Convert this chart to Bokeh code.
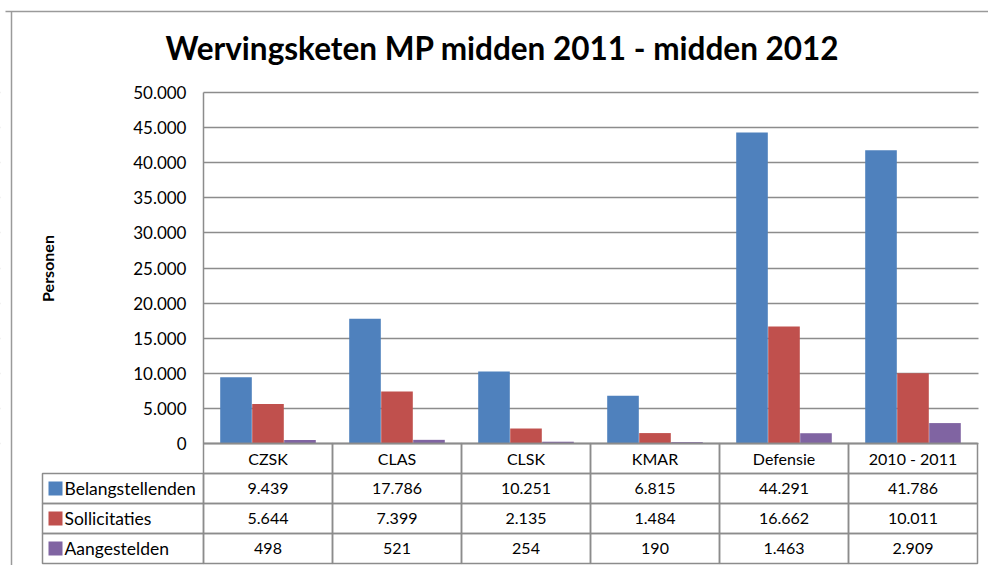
import numpy as np
from bokeh.plotting import figure
from bokeh.models import ColumnDataSource, FixedTicker, LinearAxis, Range1d, Grid
from bokeh.core.properties import value
from bokeh.embed import file_html
from bokeh.resources import INLINE

# ---------------- data ----------------
title_text = "Wervingsketen MP midden 2011 - midden 2012"
y_label = "Personen"
categories = ["CZSK", "CLAS", "CLSK", "KMAR", "Defensie", "2010 - 2011"]
series_names = ["Belangstellenden", "Sollicitaties", "Aangestelden"]
belangstellenden = [9439, 17786, 10251, 6815, 44291, 41786]
sollicitaties = [5644, 7399, 2135, 1484, 16662, 10011]
aangestelden = [498, 521, 254, 190, 1463, 2909]
y_ticks = [0, 5000, 10000, 15000, 20000, 25000, 30000, 35000, 40000, 45000, 50000]
y_tick_labels = ["0", "5.000", "10.000", "15.000", "20.000", "25.000",
                 "30.000", "35.000", "40.000", "45.000", "50.000"]
colors = ["#4F81BD", "#C0504D", "#8064A2"]
series_values = [belangstellenden, sollicitaties, aangestelden]

# ---------------- layout (page pixels) ----------------
W, H = 988, 565
OFF = 0
X_CAT0 = 203.0      # left edge of plot area
CAT_W = 129.0       # width of one category
Y_ZERO = 443.0      # pixel row of value 0
PLOT_H = 351.0      # pixels for full y span
Y_MAX = y_ticks[-1]
RH = 30.0           # table row height
TABLE_LEFT = 42.0
GRAY = "#8c8c8c"
FONT = "Lato"

def dx(px):
    return (px - X_CAT0) / CAT_W

def dy(py):
    return (Y_ZERO - py) * Y_MAX / PLOT_H

p = figure(width=W, height=H,
           x_range=Range1d(dx(OFF), dx(OFF + W)),
           y_range=Range1d(dy(OFF + H), dy(OFF)),
           output_backend="svg", toolbar_location=None,
           x_axis_location=None, y_axis_location=None,
           min_border=0, outline_line_color=None,
           background_fill_color="white", border_fill_color="white")
p.xgrid.visible = False
p.ygrid.visible = False

grid = Grid(dimension=1, ticker=FixedTicker(ticks=y_ticks),
            grid_line_color=GRAY, grid_line_width=1.5)
p.add_layout(grid)

# white covers so gridlines only span the plot area
n = len(categories)
p.quad(left=[dx(-20)], right=[0], bottom=[dy(Y_ZERO + RH)], top=[dy(-20)],
       fill_color="white", line_color=None)
p.quad(left=[n + 1.0 / CAT_W], right=[dx(W + 20)],
       bottom=[dy(Y_ZERO + RH)], top=[dy(-20)],
       fill_color="white", line_color=None)

# y axis (real axis, labels pulled inside the frame)
yaxis = LinearAxis(ticker=FixedTicker(ticks=y_ticks),
                   major_label_overrides={t: l for t, l in zip(y_ticks, y_tick_labels)},
                   axis_line_color=None, major_tick_line_color=None,
                   minor_tick_line_color=None, major_tick_in=0, major_tick_out=0,
                   minor_tick_in=0, minor_tick_out=0,
                   major_label_standoff=-int(186 - OFF),
                   major_label_text_font=FONT,
                   major_label_text_font_size="17px",
                   major_label_text_color="black")
p.add_layout(yaxis, "left")

# vertical axis line
p.segment(x0=[0], y0=[0], x1=[0], y1=[Y_MAX], line_color=GRAY, line_width=1.5)

# bars
xc = np.arange(n) + 0.5
offsets = [-0.248, 0.0, 0.248]
src = ColumnDataSource(dict(xc=xc, b=belangstellenden, s=sollicitaties, a=aangestelden))
for col, off, c in zip(["b", "s", "a"], offsets, colors):
    src.data["x_" + col] = xc + off
    p.vbar(x="x_" + col, top=col, bottom=0, width=0.245, source=src,
           fill_color=c, line_color=None)

# category axis line
p.segment(x0=[0], y0=[0], x1=[n], y1=[0], line_color=GRAY, line_width=1.5)

# table: header row
hdr_bottom = dy(Y_ZERO + RH)
p.quad(left=list(range(n)), right=list(range(1, n + 1)), top=[0] * n, bottom=[hdr_bottom] * n,
       fill_color=None, line_color=GRAY, line_width=1.5)
p.text(x=list(xc), y=[dy(Y_ZERO + RH / 2)] * n, text=categories,
       text_align="center", text_baseline="middle",
       text_font=value(FONT), text_font_size="16px", text_color="black")

def fmt(v):
    return f"{v:,}".replace(",", ".")

for r, (name, vals, c) in enumerate(zip(series_names, series_values, colors)):
    top_px = Y_ZERO + RH * (r + 1)
    bot_px = top_px + RH
    mid_px = top_px + RH / 2
    lefts = [dx(TABLE_LEFT)] + list(range(n))
    rights = [0] + list(range(1, n + 1))
    p.quad(left=lefts, right=rights, top=[dy(top_px)] * (n + 1), bottom=[dy(bot_px)] * (n + 1),
           fill_color=None, line_color=GRAY, line_width=1.5)
    # legend key
    p.quad(left=[dx(48)], right=[dx(62)], top=[dy(mid_px - 7)], bottom=[dy(mid_px + 7)],
           fill_color=c, line_color=None)
    p.text(x=[dx(64)], y=[dy(mid_px)], text=[name], text_align="left",
           text_baseline="middle", text_font=value(FONT), text_font_size="17.5px",
           text_color="black")
    p.text(x=list(xc), y=[dy(mid_px)] * n, text=[fmt(v) for v in vals],
           text_align="center", text_baseline="middle",
           text_font=value(FONT), text_font_size="16px", text_color="black")

# y axis title
p.text(x=[dx(47)], y=[dy(268)], text=[y_label], angle=np.pi / 2,
       text_align="center", text_baseline="middle",
       text_font=value(FONT), text_font_size="16px", text_font_style="bold",
       text_color="black")

# chart title
p.text(x=[dx(502)], y=[dy(47)], text=[title_text], text_align="center",
       text_baseline="alphabetic", text_font=value(FONT), text_font_size="31.5px",
       text_font_style="bold", text_color="black")

# outer chart border (top and left)
p.segment(x0=[dx(5)], y0=[dy(11)], x1=[dx(OFF + W)], y1=[dy(11)],
          line_color="#9a9a9a", line_width=1.5)
p.segment(x0=[dx(11)], y0=[dy(11)], x1=[dx(11)], y1=[dy(OFF + H)],
          line_color="#9a9a9a", line_width=1.5)

open("out.html", "w").write(file_html(p, INLINE))
